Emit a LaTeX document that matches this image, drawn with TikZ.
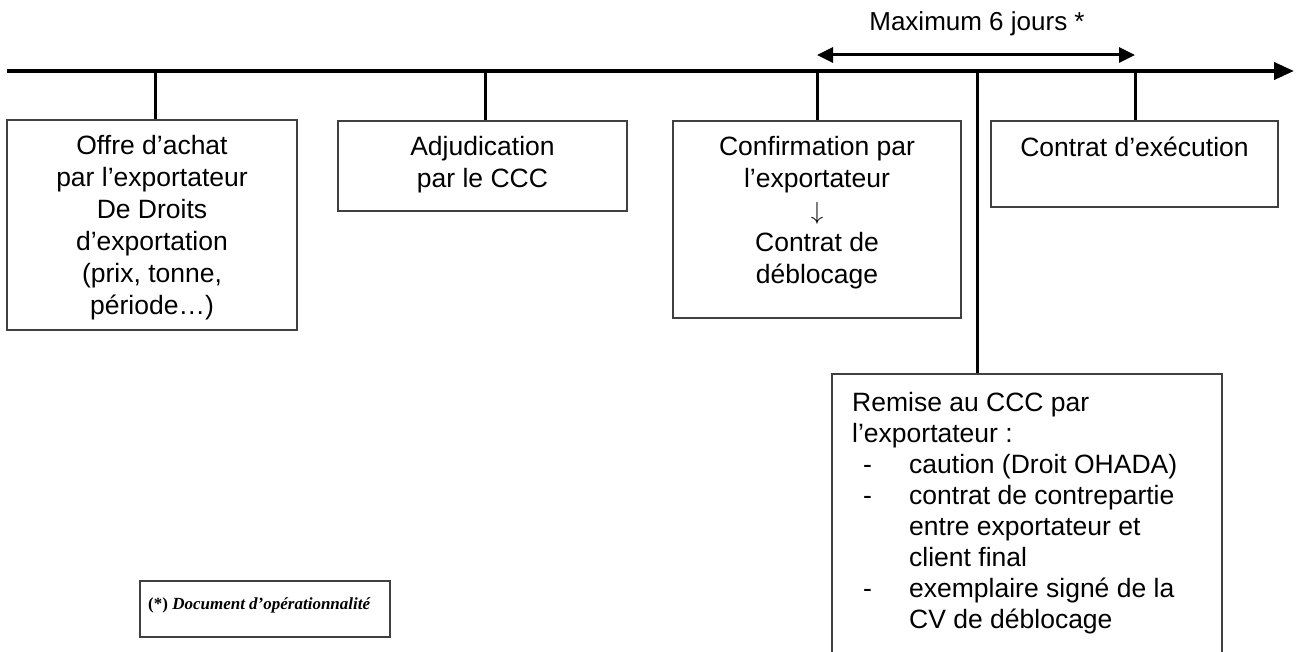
\documentclass[tikz,border=0pt]{standalone}
\usepackage{fontspec}
\setmainfont{Liberation Sans}
\newfontfamily\notefont{Liberation Serif}
\usetikzlibrary{arrows.meta}
\tikzstyle{boite} = [draw=black!75, line width=1.2pt, inner sep=0pt]
\tikzstyle{texte} = [align=center, inner sep=0pt, anchor=north, font=\fontsize{26.5}{32}\selectfont]
\tikzstyle{tige} = [line width=3pt]
\tikzstyle{pointe} = [line width=3pt, {Triangle[length=16pt,width=15pt]}-{Triangle[length=16pt,width=15pt]}]
\newcommand{\tiret}{\makebox[57pt][l]{\hspace*{11pt}-}}
\newcommand{\suite}{\hspace*{57pt}}

\begin{document}
\begin{tikzpicture}[x=1pt,y=-1pt]
	\useasboundingbox (0,0) rectangle (1302,652);

	% axe du temps
	\coordinate (debut) at (7,71);
	\coordinate (fin) at (1294,71);
	\draw [line width=4pt,-{Triangle[length=20pt,width=17pt]}] (debut) -- (fin);

	\coordinate (t1) at (155,71);
	\coordinate (t2) at (485,71);
	\coordinate (t3) at (817,71);
	\coordinate (t4) at (1135,71);
	\coordinate (t5) at (977,71);

	% les etapes
	\node[boite, minimum width=290pt, minimum height=210pt] (offre) at (152,225) {};
	\node[boite, minimum width=289pt, minimum height=90pt] (adjud) at (482.5,166) {};
	\node[boite, minimum width=288pt, minimum height=197pt] (confirm) at (817,219.5) {};
	\node[boite, minimum width=287pt, minimum height=86pt] (execution) at (1134.5,164) {};
	\node[boite, minimum width=390pt, minimum height=290pt] (remise) at (1027,519) {};
	\node[boite, minimum width=250pt, minimum height=56pt] (note) at (265,609) {};

	\node[texte] (offretxt) at ([yshift=-16pt]offre.north) {Offre d’achat\\par l’exportateur\\De Droits\\d’exportation\\(prix, tonne,\\période…)};
	\node[texte] (adjudtxt) at ([yshift=-16pt]adjud.north) {Adjudication\\par le CCC};
	\node[texte] (confirmtxt) at ([yshift=-16pt]confirm.north) {Confirmation par\\l’exportateur\\$\downarrow$\\Contrat de\\déblocage};
	\node[texte] (executiontxt) at ([yshift=-16pt]execution.north) {Contrat d’exécution};
	\node[texte, align=left, anchor=north west, font=\fontsize{26.5}{31}\selectfont] (remisetxt) at (852,392) {Remise au CCC par\\
		l’exportateur :\\
		\tiret caution (Droit OHADA)\\
		\tiret contrat de contrepartie\\
		\suite entre exportateur et\\
		\suite client final\\
		\tiret exemplaire signé de la\\
		\suite CV de déblocage};
	\node[anchor=west, inner sep=0pt, font=\notefont\fontsize{17}{20}\selectfont] (notetxt) at (148,605) {\textbf{(*)} \textbf{\textit{Document d’opérationnalité}}};

	% les tiges
	\foreach \t/\b in {t1/offre,t2/adjud,t3/confirm,t4/execution,t5/remise}
		\draw[tige] (\t) -- (\t |- \b.north);

	% duree maximale
	\draw [pointe] ([yshift=16pt]t3) -- ([yshift=16pt]t4);
	\node[font=\fontsize{26}{30}\selectfont] (duree) at (977,24) {Maximum 6 jours *};

\end{tikzpicture}
\end{document}
